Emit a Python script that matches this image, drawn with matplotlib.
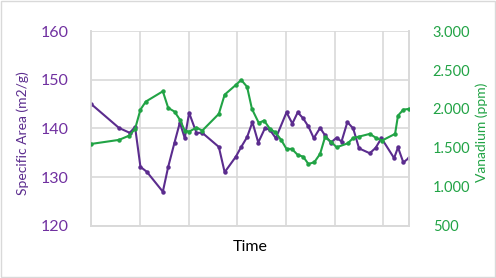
import matplotlib
matplotlib.use('Agg')
import matplotlib.pyplot as plt
from matplotlib.patches import Rectangle
from matplotlib.ticker import FuncFormatter

# ── Data ─────────────────────────────────────────────────────────────────────
area_time = [0.00, 0.57, 0.79, 0.90, 1.01, 1.14, 1.47, 1.58, 1.71, 1.82, 1.92,
             2.01, 2.16, 2.28, 2.62, 2.74, 2.97, 3.08, 3.20, 3.31, 3.43, 3.57,
             3.67, 3.79, 4.01, 4.13, 4.24, 4.35, 4.46, 4.57, 4.70, 4.80, 4.92,
             5.04, 5.14, 5.26, 5.38, 5.50, 5.72, 5.84, 5.96, 6.22, 6.30, 6.41,
             6.53]
area_vals = [145.0, 140.1, 139.1, 140.3, 132.1, 131.1, 127.0, 132.1, 137.1,
             141.2, 138.0, 143.2, 139.1, 139.1, 136.2, 131.0, 134.2, 136.2,
             138.2, 141.3, 137.1, 140.1, 139.7, 138.0, 143.3, 141.0, 143.3,
             142.1, 140.4, 138.0, 140.1, 138.6, 137.1, 138.1, 137.3, 141.3,
             140.0, 135.9, 134.9, 136.0, 138.0, 133.9, 136.1, 133.0, 134.0]

vana_time = [0.00, 0.57, 0.78, 0.90, 1.01, 1.12, 1.47, 1.58, 1.71, 1.82, 1.92,
             2.01, 2.16, 2.28, 2.62, 2.74, 2.97, 3.08, 3.20, 3.30, 3.44, 3.55,
             3.67, 3.78, 3.90, 4.01, 4.12, 4.24, 4.35, 4.46, 4.58, 4.70, 4.80,
             4.92, 5.04, 5.27, 5.38, 5.50, 5.72, 5.85, 5.97, 6.24, 6.30, 6.41,
             6.53]
vana_vals = [1551, 1603, 1658, 1744, 1992, 2095, 2227, 2014, 1966, 1863, 1722,
             1709, 1761, 1722, 1937, 2184, 2309, 2373, 2285, 2001, 1821, 1851,
             1744, 1700, 1603, 1487, 1487, 1410, 1388, 1294, 1315, 1423, 1636,
             1581, 1508, 1559, 1628, 1645, 1680, 1628, 1594, 1680, 1915, 1992,
             2001]

left_ticks = [120, 130, 140, 150, 160]
right_ticks = [500, 1000, 1500, 2000, 2500, 3000]

PURPLE = '#5B2C8E'
PURPLE_TXT = '#7030A0'
GREEN = '#21A345'
GRID = '#D9D9D9'

plt.rcParams['font.family'] = ['Lato', 'DejaVu Sans']

W, H = 496, 278
fig = plt.figure(figsize=(W / 100, H / 100), dpi=100)
ax = fig.add_axes([0.184, 0.188, 0.641, 0.700])
ax2 = ax.twinx()

ax.plot(area_time, area_vals, color=PURPLE, lw=1.5, marker='o', ms=2.2,
        zorder=3)
ax2.plot(vana_time, vana_vals, color=GREEN, lw=1.5, marker='o', ms=2.2,
         zorder=3)

ax.set_xlim(0, 6.53)
ax.set_ylim(120, 160)
ax.set_yticks(left_ticks)
ax.set_xticks(range(0, 7))
ax.tick_params(axis='x', length=0, labelbottom=False)
ax.tick_params(axis='y', length=0, pad=16, labelsize=11.5, labelcolor=PURPLE_TXT)
ax.grid(color=GRID, lw=1.2)
ax.set_axisbelow(True)

ax2.set_ylim(500, 3000)
ax2.set_yticks(right_ticks)
ax2.yaxis.set_major_formatter(
    FuncFormatter(lambda v, p: f'{int(v):,}'.replace(',', '.')))
ax2.tick_params(axis='y', length=0, pad=17, labelsize=10.5, labelcolor=GREEN)

for a in (ax, ax2):
    for s in a.spines.values():
        s.set_color(GRID)
        s.set_linewidth(1.2)
    a.spines['top'].set_visible(False)

# axis titles placed like the original
fig.text(23 / W, 1 - 133 / H, 'Specific Area (m2/g)', color=PURPLE,
         fontsize=10, rotation=90, ha='center', va='center')
fig.text(482 / W, 1 - 132 / H, 'Vanadium (ppm)', color=GREEN,
         fontsize=10, rotation=90, ha='center', va='center')
fig.text(250 / W, 1 - 247 / H, 'Time', fontsize=11.5, ha='center',
         va='center')

fig.patches.append(Rectangle((0.002, 0.003), 0.996, 0.994,
                             transform=fig.transFigure, fill=False,
                             edgecolor=GRID, lw=1.0))

fig.savefig('out.png', dpi=100)
